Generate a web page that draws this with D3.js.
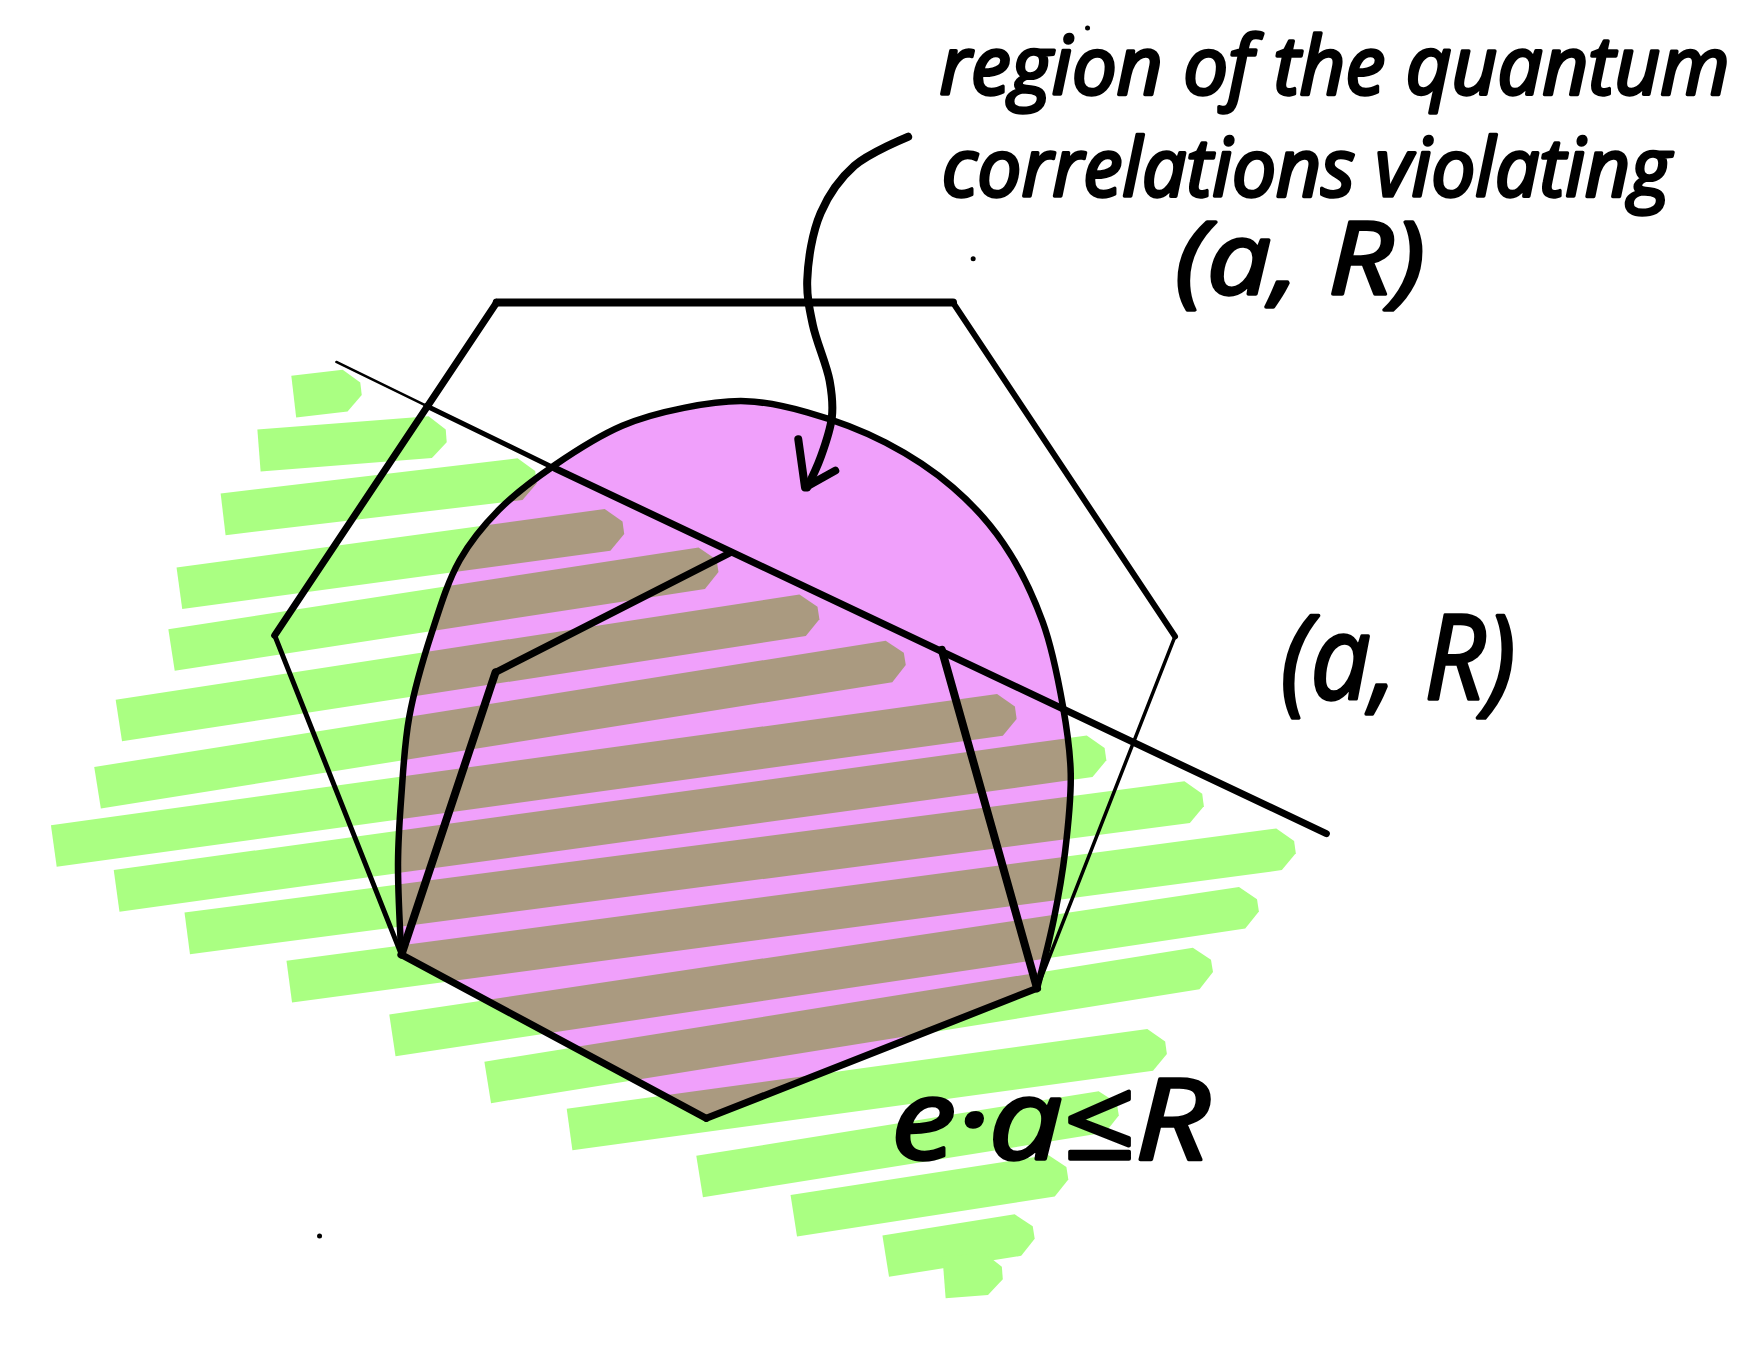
<!DOCTYPE html>
<html>
<head>
<meta charset="utf-8">
<script src="https://cdn.jsdelivr.net/npm/d3@7"></script>
<style>
  html, body { margin: 0; padding: 0; background: #fff; }
  svg { display: block; }
  text { font-family: "Open Sans", sans-serif; font-style: italic; fill: #000; stroke: #000; stroke-linejoin: round; }
</style>
</head>
<body>
<div id="chart"></div>
<script>
// hatching of the half space, each stroke is start x,y and end x,y
var hatchStrokes = [
  [262, 354, 322, 347],
  [231, 402, 398, 389],
  [199, 459, 478, 426],
  [160, 525, 556, 471],
  [153, 580, 640, 505],
  [106, 643, 730, 547],
  [87, 703, 807, 588],
  [48, 755, 906, 636],
  [104, 795, 986, 673],
  [167, 833, 1073, 714],
  [258, 876, 1155, 756],
  [350, 924, 1122, 808],
  [435, 966, 1081, 862],
  [508, 1008, 1040, 935],
  [624, 1050, 997, 990],
  [708, 1085, 952, 1047],
  [790, 1121, 922, 1100],
  [842, 1140, 894, 1136]
];
// boundary of the quantum set
var quantumArc = [
  [358, 852], [355, 770], [358, 710], [365, 640], [385, 565], [410, 500], [445, 455],
  [495, 415], [555, 380], [610, 364], [665, 358], [720, 368], [790, 395], [850, 435],
  [895, 485], [930, 555], [948, 630], [955, 690], [950, 760], [940, 820], [925, 882]
];
var quantumBase = [[630, 998]];
var polygonEdges = [
  { pts: [[443, 270], [850, 270]], w: 8 },
  { pts: [[443, 270], [245, 567]], w: 7 },
  { pts: [[245, 567], [358, 852]], w: 5 },
  { pts: [[850, 270], [1048, 568]], w: 6 },
  { pts: [[1048, 568], [925, 882]], w: 3.5 },
  { pts: [[358, 852], [630, 998]], w: 7 },
  { pts: [[630, 998], [925, 882]], w: 7 },
  { pts: [[358, 852], [442, 600]], w: 8 },
  { pts: [[442, 600], [652, 493]], w: 7 },
  { pts: [[840, 580], [925, 882]], w: 8 },
  { pts: [[300, 323], [380, 362]], w: 2.5 },
  { pts: [[380, 362], [495, 418]], w: 5 },
  { pts: [[495, 418], [1183, 744]], w: 7 }
];
var arrowCurve = [
  [810, 122], [762, 148], [732, 190], [720, 250], [725, 290], [740, 340], [742, 372], [732, 408], [720, 435]
];
var arrowHead = [[712, 392], [718, 435], [745, 420]];
var specks = [[868, 231], [285, 1103], [970, 25]];
var noteLines = ["region of the quantum", "correlations violating", "(a, R)"];
var pairLabel = "(a, R)";
var halfSpaceLabel = "e\u00b7a\u2264R";

var width = 1758, height = 1348;
var x = d3.scaleLinear().domain([0, 1568]).range([0, width]);
var y = d3.scaleLinear().domain([0, 1203]).range([0, height]);

var svg = d3.select("#chart").append("svg")
  .attr("width", width)
  .attr("height", height);

var line = d3.line().x(function (d) { return x(d[0]); }).y(function (d) { return y(d[1]); });
var curve = d3.line().x(function (d) { return x(d[0]); }).y(function (d) { return y(d[1]); }).curve(d3.curveCatmullRom);

var quantumPath = curve(quantumArc) + "L" + x(quantumBase[0][0]) + "," + y(quantumBase[0][1]) + "Z";

svg.append("defs").append("clipPath")
  .attr("id", "quantum-clip")
  .append("path")
  .attr("d", quantumPath);

// marker stroke as a polygon: blunt at the start, chamfered tip at the end
function strokeShape(d) {
  var x1 = x(d[0]), y1 = y(d[1]), x2 = x(d[2]), y2 = y(d[3]);
  var len = Math.hypot(x2 - x1, y2 - y1);
  var ux = (x2 - x1) / len, uy = (y2 - y1) / len;
  var nx = -uy * 21, ny = ux * 21;
  var cut = Math.min(16, len / 3);
  return [
    [x1 + nx, y1 + ny],
    [x1 - nx, y1 - ny],
    [x2 - nx - ux * cut, y2 - ny - uy * cut],
    [x2 - nx * 0.3, y2 - ny * 0.3],
    [x2 + nx * 0.3, y2 + ny * 0.3],
    [x2 + nx - ux * cut, y2 + ny - uy * cut]
  ].join(" ");
}

function drawHatch(g, colour) {
  g.selectAll("polygon")
    .data(hatchStrokes)
    .enter().append("polygon")
    .attr("points", strokeShape)
    .attr("fill", colour);
}

drawHatch(svg.append("g"), "#aaff82");

svg.append("path")
  .attr("d", quantumPath)
  .attr("fill", "#f0a0fb");

// hatching seen through the pink region
drawHatch(svg.append("g").attr("clip-path", "url(#quantum-clip)"), "#aa9a80");

svg.append("path")
  .attr("d", curve(quantumArc))
  .attr("fill", "none")
  .attr("stroke", "#000")
  .attr("stroke-width", 6.5);

svg.append("g").selectAll("path")
  .data(polygonEdges)
  .enter().append("path")
  .attr("d", function (d) { return line(d.pts); })
  .attr("fill", "none")
  .attr("stroke", "#000")
  .attr("stroke-linecap", "round")
  .attr("stroke-width", function (d) { return d.w; });

svg.append("path")
  .attr("d", curve(arrowCurve))
  .attr("fill", "none")
  .attr("stroke", "#000")
  .attr("stroke-linecap", "round")
  .attr("stroke-width", 8);

svg.append("path")
  .attr("d", line(arrowHead))
  .attr("fill", "none")
  .attr("stroke", "#000")
  .attr("stroke-linecap", "round")
  .attr("stroke-linejoin", "round")
  .attr("stroke-width", 8);

svg.append("g").selectAll("circle")
  .data(specks)
  .enter().append("circle")
  .attr("cx", function (d) { return x(d[0]); })
  .attr("cy", function (d) { return y(d[1]); })
  .attr("r", 2.5)
  .attr("fill", "#000");

function label(str, px, py, size, len, sw) {
  svg.append("text")
    .attr("x", x(px))
    .attr("y", y(py))
    .attr("font-size", size)
    .attr("textLength", len)
    .attr("lengthAdjust", "spacingAndGlyphs")
    .attr("stroke-width", sw)
    .text(str);
}

label(noteLines[0], 838, 84, 80, 790, 3.5);
label(noteLines[1], 840, 175, 80, 729, 3.5);
label(noteLines[2], 1048, 262, 100, 250, 3.5);
label(pairLabel, 1142, 624, 118, 235, 3.5);
label(halfSpaceLabel, 795, 1034, 112, 318, 3.5);
</script>
</body>
</html>
